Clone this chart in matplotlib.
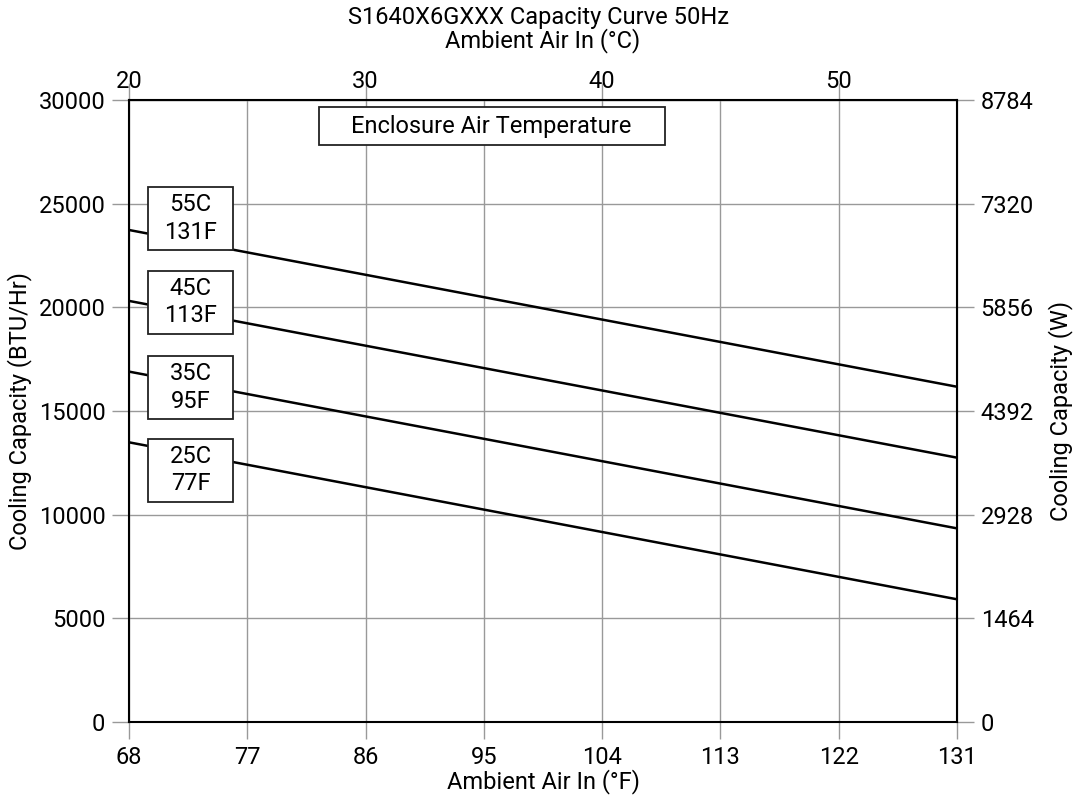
import matplotlib.pyplot as plt
from matplotlib.patches import Rectangle

plt.rcParams['font.family'] = ['Roboto', 'DejaVu Sans']
plt.rcParams['font.size'] = 17

# ambient air in deg F (end points of each straight curve)
ambient_f = [68, 131]
# cooling capacity in BTU/Hr
cap_55c = [23730, 16170]
cap_45c = [20310, 12750]
cap_35c = [16900, 9340]
cap_25c = [13490, 5920]

curve_labels = ['55C\n131F', '45C\n113F', '35C\n95F', '25C\n77F']
label_y = [24290, 20250, 16130, 12150]
label_x = 72.68

f_ticks = [68, 77, 86, 95, 104, 113, 122, 131]
c_ticks = [20, 30, 40, 50]
btu_ticks = [0, 5000, 10000, 15000, 20000, 25000, 30000]
w_ticks = [0, 1464, 2928, 4392, 5856, 7320, 8784]

fig = plt.figure(figsize=(10.76, 7.98), dpi=100)
ax = fig.add_axes([0.1199, 0.0952, 0.7695, 0.7795])

for cap in [cap_55c, cap_45c, cap_35c, cap_25c]:
    ax.plot(ambient_f, cap, color='black', lw=1.8, zorder=3)

ax.set_xlim(68, 131)
ax.set_ylim(0, 30000)
ax.set_xticks(f_ticks)
ax.set_yticks(btu_ticks)
ax.grid(True, color='#999999', lw=1)
ax.tick_params(direction='out', length=12, width=1, color='#999999', pad=5)
for s in ax.spines.values():
    s.set_linewidth(1.5)
ax.set_xlabel('Ambient Air In (°F)', labelpad=0)
ax.set_ylabel('Cooling Capacity (BTU/Hr)', labelpad=5)

# curve label boxes (fixed size)
box_w, box_h = 6.46, 3040
for txt, y in zip(curve_labels, label_y):
    ax.add_patch(Rectangle((label_x - box_w / 2, y - box_h / 2), box_w, box_h,
                           fc='white', ec='#222222', lw=1.3, zorder=4))
    ax.text(label_x, y, txt, ha='center', va='center', zorder=5, linespacing=1.25)

ax.add_patch(Rectangle((82.46, 27830), 26.32, 1830, fc='white', ec='#222222', lw=1.3, zorder=4))
ax.text(84.9, 28745, 'Enclosure Air Temperature', ha='left', va='center', zorder=5)

# top axis in deg C
axc = ax.secondary_xaxis('top', functions=(lambda f: (f - 32) * 5 / 9, lambda c: c * 9 / 5 + 32))
axc.set_xticks(c_ticks)
axc.tick_params(direction='out', length=12, width=1, color='#999999', pad=-7)
axc.set_xlabel('Ambient Air In (°C)', labelpad=16)

# right axis in W
axw = ax.secondary_yaxis('right', functions=(lambda b: b * 0.2928, lambda w: w / 0.2928))
axw.set_yticks(w_ticks)
axw.tick_params(direction='out', length=12, width=1, color='#999999', pad=5)
axw.set_ylabel('Cooling Capacity (W)', labelpad=10)

fig.text(0.5, 0.992, 'S1640X6GXXX Capacity Curve 50Hz', ha='center', va='top')

fig.savefig('out.png', dpi=100)
